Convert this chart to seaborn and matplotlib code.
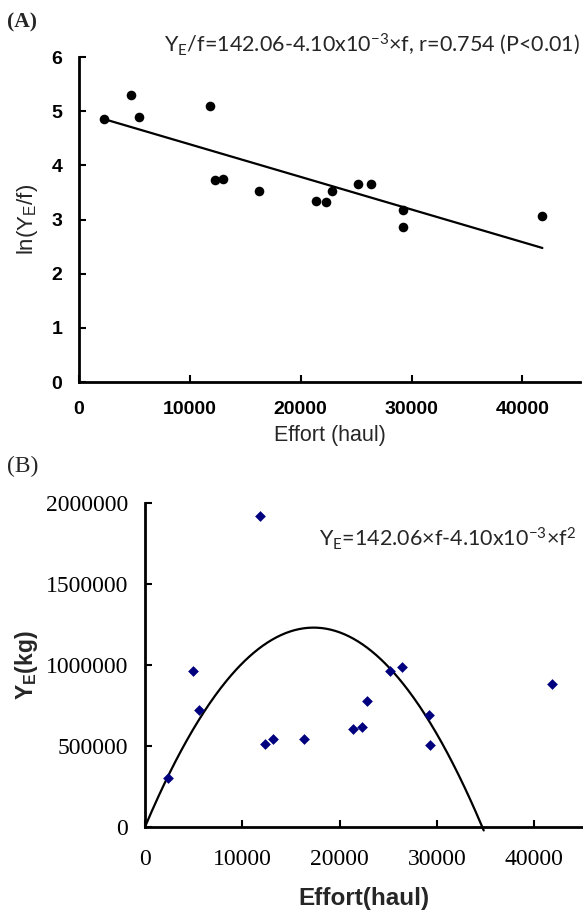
import numpy as np
import pandas as pd
import matplotlib
matplotlib.use("Agg")
import matplotlib.pyplot as plt
import seaborn as sns

# effort (haul) and ln(YE/f)
effort_a = [2300, 4700, 5400, 11800, 12300, 13000, 16200, 21400, 22300, 22800,
            25200, 26300, 29200, 29200, 41800]
ln_cpue = [4.85, 5.30, 4.90, 5.10, 3.73, 3.75, 3.52, 3.35, 3.32, 3.53,
           3.65, 3.65, 3.18, 2.87, 3.07]

# effort and equilibrium yield (kg)
effort_b = [2400, 4900, 5500, 11800, 12300, 13100, 16300, 21400, 22300, 22800,
            25200, 26400, 29200, 29300, 41800]
yield_kg = [300000, 960000, 720000, 1920000, 515000, 545000, 540000, 605000,
            620000, 780000, 960000, 990000, 690000, 505000, 885000]

# Schaefer model coefficients from the panel B equation
coef_a = 142.06
coef_b = 4.10e-3
curve_end = 34800

df_a = pd.DataFrame({"effort": effort_a, "lny": ln_cpue})
df_b = pd.DataFrame({"effort": effort_b, "yield": yield_kg})

sns.set_theme(style="ticks")
plt.rcParams["mathtext.default"] = "regular"

fig = plt.figure(figsize=(5.83, 9.17), dpi=100)

# ---- Panel A ----
ax1 = fig.add_axes([0.1355, 0.5834, 0.8595, 0.3544])
sns.regplot(data=df_a, x="effort", y="lny", ax=ax1, ci=None, truncate=True,
            scatter_kws=dict(color="black", s=48, linewidths=0, alpha=1),
            line_kws=dict(color="black", lw=1.6))
ax1.set_xlim(0, 45200)
ax1.set_ylim(0, 6)
ax1.set_xticks([0, 10000, 20000, 30000, 40000])
ax1.set_yticks(range(7))
ax1.tick_params(direction="in", length=5, width=1.5, colors="black")
ax1.tick_params(axis="x", pad=14)
ax1.tick_params(axis="y", pad=12)
for lab in ax1.get_xticklabels() + ax1.get_yticklabels():
    lab.set_fontfamily("Liberation Sans")
    lab.set_fontweight("bold")
    lab.set_fontsize(14)
sns.despine(ax=ax1)
for s in ["left", "bottom"]:
    ax1.spines[s].set_linewidth(2)
    ax1.spines[s].set_color("black")
ax1.set_xlabel("Effort (haul)", fontfamily="Liberation Sans", fontsize=15.5, labelpad=5)
ax1.set_ylabel("ln(Y$_E$/f)", fontfamily="Liberation Sans", fontsize=16, labelpad=8)
ax1.text(1.0, 1.04, "Y$_E$/f=142.06-4.10x10$^{-3}$×f, r=0.754 (P<0.01)",
         transform=ax1.transAxes, ha="right", va="center",
         fontfamily="Lato", fontsize=15.5)
fig.text(0.012, 0.976, "(A)", fontfamily="Liberation Serif", fontweight="bold",
         fontsize=15.5, va="center")

# ---- Panel B ----
ax2 = fig.add_axes([0.2487, 0.0982, 0.7513, 0.3533])
sns.scatterplot(data=df_b, x="effort", y="yield", ax=ax2, marker="D",
                color="#00007f", s=30, linewidth=0, zorder=3)
f_curve = np.linspace(0, curve_end, 300)
sns.lineplot(x=f_curve, y=coef_a * f_curve - coef_b * f_curve ** 2, ax=ax2,
             color="black", lw=1.6, clip_on=False)
ax2.set_xlim(0, 45000)
ax2.set_ylim(0, 2000000)
ax2.set_xticks([0, 10000, 20000, 30000, 40000])
ax2.set_yticks([0, 500000, 1000000, 1500000, 2000000])
ax2.set_yticklabels(["0", "500000", "1000000", "1500000", "2000000"])
ax2.set_xticklabels(["0", "10000", "20000", "30000", "40000"])
ax2.tick_params(direction="in", length=5, width=1.5, colors="black")
ax2.tick_params(axis="x", pad=16)
ax2.tick_params(axis="y", pad=12)
for lab in ax2.get_xticklabels() + ax2.get_yticklabels():
    lab.set_fontfamily("Liberation Serif")
    lab.set_fontsize(17)
sns.despine(ax=ax2)
for s in ["left", "bottom"]:
    ax2.spines[s].set_linewidth(2)
    ax2.spines[s].set_color("black")
ax2.set_xlabel("Effort(haul)", fontfamily="Liberation Sans", fontweight="bold",
               fontsize=17.5, labelpad=12)
ax2.set_ylabel("Y$_E$(kg)", fontfamily="Liberation Sans", fontweight="bold",
               fontsize=16.5, labelpad=4)
ax2.text(0.985, 0.89, "Y$_E$=142.06×f-4.10x10$^{-3}$×f$^2$",
         transform=ax2.transAxes, ha="right", va="center",
         fontfamily="Lato", fontsize=15.5)
fig.text(0.012, 0.491, "(B)", fontfamily="Liberation Serif", fontsize=17, va="center")

fig.savefig("out.png", dpi=100)
